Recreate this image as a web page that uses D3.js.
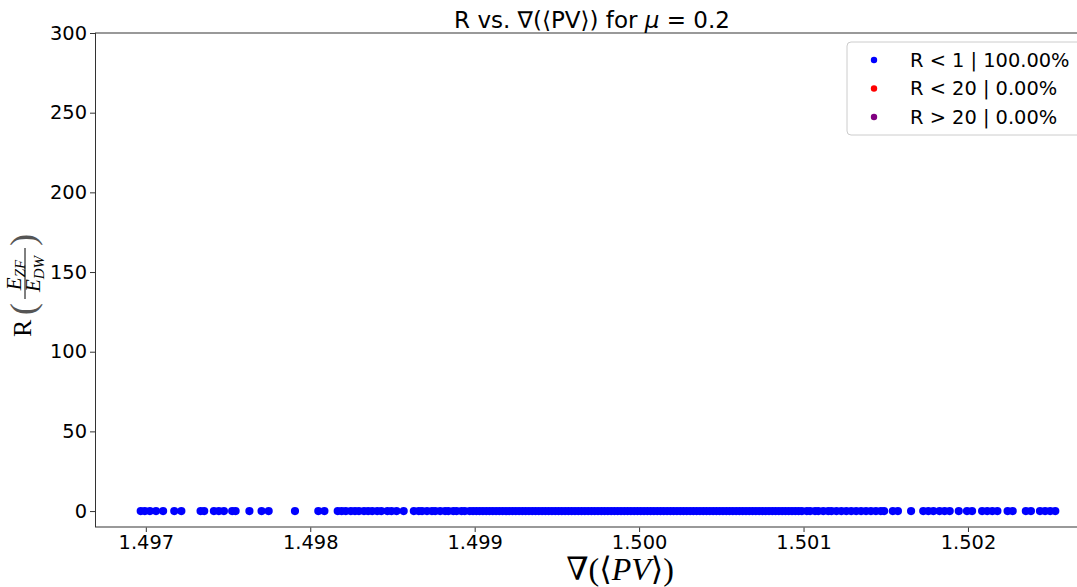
<!DOCTYPE html>
<html>
<head>
<meta charset="utf-8">
<script src="https://cdn.jsdelivr.net/npm/d3@7"></script>
<style>
  body { margin: 0; background: #fff; }
  svg { display: block; }
</style>
</head>
<body>
<script>
// R values for every sample, and their gradient of <PV>
// left tail, dense core, right tail
var gradLeft = [1.496969, 1.496994, 1.497025, 1.497062, 1.497105, 1.497173, 1.497216,
                1.497333, 1.497355, 1.497414, 1.497444, 1.497475, 1.497525, 1.497546,
                1.497630, 1.497704, 1.497747, 1.497907, 1.498049, 1.498086,
                1.498167, 1.498191, 1.498216, 1.498247, 1.498272, 1.498296, 1.498327,
                1.498352, 1.498377, 1.498407, 1.498432, 1.498469, 1.498494, 1.498525, 1.498568];
var gradCore = [1.49863, 1.49866, 1.49868, 1.49871, 1.49874, 1.49876, 1.49879, 1.49882, 1.49884,
                1.49887, 1.49889, 1.49892, 1.49894, 1.49897, 1.49899, 1.49901, 1.49903, 1.49905,
                1.49907, 1.49909, 1.49911, 1.49913, 1.49915, 1.49917, 1.49919, 1.49921, 1.49923,
                1.49925, 1.49927, 1.49929, 1.49931, 1.49933, 1.49935, 1.49937, 1.49939, 1.49941,
                1.49943, 1.49945, 1.49947, 1.49949, 1.49951, 1.49953, 1.49955, 1.49957, 1.49959,
                1.49961, 1.49963, 1.49965, 1.49967, 1.49969, 1.49971, 1.49973, 1.49975, 1.49977,
                1.49979, 1.49981, 1.49983, 1.49985, 1.49987, 1.49989, 1.49991, 1.49993, 1.49995,
                1.49997, 1.49999, 1.50001, 1.50003, 1.50005, 1.50007, 1.50009, 1.50011, 1.50013,
                1.50015, 1.50017, 1.50019, 1.50021, 1.50023, 1.50025, 1.50027, 1.50029, 1.50031,
                1.50033, 1.50035, 1.50037, 1.50039, 1.50041, 1.50043, 1.50045, 1.50047, 1.50049,
                1.50051, 1.50053, 1.50055, 1.50057, 1.50059, 1.50061, 1.50063, 1.50065, 1.50067,
                1.50069, 1.50071, 1.50073, 1.50075, 1.50077, 1.50079, 1.50081, 1.50083, 1.50085,
                1.50087, 1.50089, 1.50091, 1.50093, 1.50095, 1.50097, 1.50099, 1.50102, 1.50104,
                1.50107, 1.50109, 1.50112, 1.50115, 1.50117, 1.50120, 1.50123, 1.50126, 1.50129,
                1.50132, 1.50135, 1.50138, 1.50141, 1.50144, 1.50147, 1.50149];
var gradRight = [1.501543, 1.501574, 1.501654, 1.501728, 1.501759, 1.501790, 1.501827, 1.501858,
                 1.501889, 1.501944, 1.501994, 1.502025, 1.502086, 1.502117, 1.502148, 1.502179,
                 1.502241, 1.502272, 1.502352, 1.502383, 1.502438, 1.502469, 1.502500, 1.502531];
var grad = gradLeft.concat(gradCore, gradRight);
var ratio = grad.map(function(){ return 0; });   // every R is 0 here

// Legend: label, color
var groups = [["R < 1 | 100.00%", "#0000ff"],
              ["R < 20 | 0.00%",  "#ff0000"],
              ["R > 20 | 0.00%",  "#800080"]];

var xTicks = [1.497, 1.498, 1.499, 1.500, 1.501, 1.502];
var yTicks = [0, 50, 100, 150, 200, 250, 300];

// Config
var width = 1077, height = 587;
var plotLeft = 95, plotTop = 33, plotBottom = 527, plotRight = 1101;
var tickFont = "19.4px";

var xExtent = d3.extent(grad);
var pad = (xExtent[1] - xExtent[0]) * 0.05;
var x = d3.scaleLinear().domain([xExtent[0] - pad, xExtent[1] + pad]).range([plotLeft, plotRight]);
var y = d3.scaleLinear().domain([-10, 300]).range([plotBottom, plotTop]);

var svg = d3.select("body").append("svg")
            .attr("width", width)
            .attr("height", height)
            .style("font-family", "'DejaVu Sans', sans-serif");

svg.append("rect").attr("width", width).attr("height", height).attr("fill", "#fff");

// Points
svg.append("g").selectAll("circle")
   .data(grad)
   .enter().append("circle")
   .attr("cx", function(d){ return x(d); })
   .attr("cy", function(d, i){ return y(ratio[i]); })
   .attr("r", 4.1)
   .attr("fill", groups[0][1]);

// Axes
var xAxis = svg.append("g")
               .attr("transform", "translate(0," + plotBottom + ")")
               .call(d3.axisBottom(x).tickValues(xTicks).tickFormat(d3.format(".3f")).tickSize(5).tickPadding(3));
var yAxis = svg.append("g")
               .attr("transform", "translate(" + plotLeft + ",0)")
               .call(d3.axisLeft(y).tickValues(yTicks).tickSize(5).tickPadding(3));
[xAxis, yAxis].forEach(function(a){
  a.select(".domain").remove();
  a.selectAll("text").attr("fill", "#000").style("font-size", tickFont).style("font-family", "'DejaVu Sans', sans-serif");
  a.selectAll("line").attr("stroke", "#333");
});

// Spines
svg.append("line").attr("x1", plotLeft).attr("x2", width).attr("y1", plotTop).attr("y2", plotTop)
   .attr("stroke", "#777").attr("stroke-width", 1.6);
svg.append("line").attr("x1", plotLeft).attr("x2", width).attr("y1", plotBottom).attr("y2", plotBottom)
   .attr("stroke", "#777").attr("stroke-width", 1.6);
svg.append("line").attr("x1", plotLeft + 0.5).attr("x2", plotLeft + 0.5).attr("y1", plotTop).attr("y2", plotBottom)
   .attr("stroke", "#333").attr("stroke-width", 1);

// Title
var title = svg.append("text")
               .attr("x", 592).attr("y", 28)
               .attr("text-anchor", "middle")
               .style("font-size", "23px");
title.append("tspan").text("R vs. \u2207(\u27E8PV\u27E9) for ");
title.append("tspan").style("font-style", "italic").text("\u03BC");
title.append("tspan").text(" = 0.2");

// X label
var xl = svg.append("text")
            .attr("x", 620).attr("y", 580)
            .attr("text-anchor", "middle")
            .style("font-family", "'Liberation Serif', 'DejaVu Serif', serif")
            .style("font-size", "32px");
xl.append("tspan").style("font-weight", "200").text("\u2207(\u27E8");
xl.append("tspan").style("font-style", "italic").text("PV");
xl.append("tspan").text("\u27E9)");

// Y label, rotated
var yl = svg.append("g")
            .attr("transform", "translate(31,337) rotate(-90)")
            .style("font-family", "'Liberation Serif', 'DejaVu Serif', serif");
yl.append("text").attr("x", 0).attr("y", 0).style("font-size", "26px").text("R");
yl.append("text").attr("x", 22).attr("y", 4).style("font-size", "36px").attr("fill", "#555").text("(");
var num = yl.append("text").attr("x", 62).attr("y", -10).attr("text-anchor", "middle").style("font-size", "21px");
num.append("tspan").style("font-style", "italic").text("E");
num.append("tspan").attr("dy", 4).style("font-style", "italic").style("font-size", "15px").text("ZF");
yl.append("line").attr("x1", 38).attr("x2", 89).attr("y1", -6).attr("y2", -6)
  .attr("stroke", "#000").attr("stroke-width", 1);
var den = yl.append("text").attr("x", 63).attr("y", 9).attr("text-anchor", "middle").style("font-size", "21px");
den.append("tspan").style("font-style", "italic").text("E");
den.append("tspan").attr("dy", 4).style("font-style", "italic").style("font-size", "15px").text("DW");
yl.append("text").attr("x", 91).attr("y", 4).style("font-size", "36px").attr("fill", "#555").text(")");

// Legend
var lg = svg.append("g").attr("transform", "translate(847,42)");
lg.append("rect").attr("width", 240).attr("height", 93).attr("rx", 4)
  .attr("fill", "#fff").attr("fill-opacity", 0.8).attr("stroke", "#ccc");
groups.forEach(function(g, i){
  lg.append("circle").attr("cx", 27).attr("cy", 18 + i * 28.5).attr("r", 3.2).attr("fill", g[1]);
  lg.append("text").attr("x", 63).attr("y", 18 + i * 28.5).attr("dy", "0.36em")
    .style("font-size", "19.4px").attr("fill", "#000").text(g[0]);
});
</script>
</body>
</html>
